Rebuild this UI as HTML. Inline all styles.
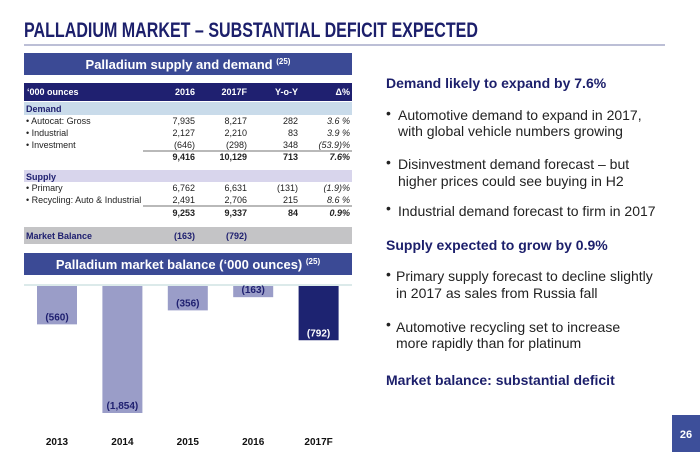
<!DOCTYPE html>
<html><head><meta charset="utf-8"><style>
body{margin:0;background:#fff}
svg{display:block;font-family:"Liberation Sans",Arial,sans-serif}
</style></head><body>
<svg width="700" height="461" viewBox="0 0 700 461">
<text x="24" y="37" font-size="21" font-weight="bold" fill="#1c1f6b" textLength="454" lengthAdjust="spacingAndGlyphs">PALLADIUM MARKET – SUBSTANTIAL DEFICIT EXPECTED</text>
<line x1="24" y1="45" x2="665" y2="45" stroke="#7a7fae" stroke-width="1"/>

<g>
<rect x="24" y="53" width="328" height="22" fill="#3b4a95"/>
<text x="188" y="69" text-anchor="middle" font-size="13" font-weight="bold" fill="#fff">Palladium supply and demand <tspan font-size="8" dy="-5">(25)</tspan></text>
<rect x="24" y="83" width="328" height="18" fill="#1f2070"/>
<g font-size="9" font-weight="bold" fill="#fff">
<text x="27" y="95">‘000 ounces</text>
<text x="195" y="95" text-anchor="end">2016</text>
<text x="247" y="95" text-anchor="end">2017F</text>
<text x="298" y="95" text-anchor="end">Y-o-Y</text>
<text x="350" y="95" text-anchor="end">Δ%</text>
</g>
<rect x="24" y="102" width="328" height="13" fill="#c9dbea"/>
<text x="26" y="112" font-size="9" font-weight="bold" fill="#1f2070">Demand</text>
<g font-size="9" fill="#222">
<text x="26" y="124">• Autocat: Gross</text><text x="195" y="124" text-anchor="end">7,935</text><text x="247" y="124" text-anchor="end">8,217</text><text x="298" y="124" text-anchor="end">282</text><text x="350" y="124" text-anchor="end" font-style="italic">3.6 %</text>
<text x="26" y="136">• Industrial</text><text x="195" y="136" text-anchor="end">2,127</text><text x="247" y="136" text-anchor="end">2,210</text><text x="298" y="136" text-anchor="end">83</text><text x="350" y="136" text-anchor="end" font-style="italic">3.9 %</text>
<text x="26" y="148">• Investment</text><text x="195" y="148" text-anchor="end">(646)</text><text x="247" y="148" text-anchor="end">(298)</text><text x="298" y="148" text-anchor="end">348</text><text x="350" y="148" text-anchor="end" font-style="italic">(53.9)%</text>
<text x="195" y="160" text-anchor="end" font-weight="bold">9,416</text><text x="247" y="160" text-anchor="end" font-weight="bold">10,129</text><text x="298" y="160" text-anchor="end" font-weight="bold">713</text><text x="350" y="160" text-anchor="end" font-weight="bold" font-style="italic">7.6%</text>
</g>
<line x1="143" y1="151" x2="352" y2="151" stroke="#444" stroke-width="0.8"/>
<rect x="24" y="170" width="328" height="12" fill="#d8d5ec"/>
<text x="26" y="180" font-size="9" font-weight="bold" fill="#1f2070">Supply</text>
<g font-size="9" fill="#222">
<text x="26" y="191">• Primary</text><text x="195" y="191" text-anchor="end">6,762</text><text x="247" y="191" text-anchor="end">6,631</text><text x="298" y="191" text-anchor="end">(131)</text><text x="350" y="191" text-anchor="end" font-style="italic">(1.9)%</text>
<text x="26" y="203">• Recycling: Auto &amp; Industrial</text><text x="195" y="203" text-anchor="end">2,491</text><text x="247" y="203" text-anchor="end">2,706</text><text x="298" y="203" text-anchor="end">215</text><text x="350" y="203" text-anchor="end" font-style="italic">8.6 %</text>
<text x="195" y="216" text-anchor="end" font-weight="bold">9,253</text><text x="247" y="216" text-anchor="end" font-weight="bold">9,337</text><text x="298" y="216" text-anchor="end" font-weight="bold">84</text><text x="350" y="216" text-anchor="end" font-weight="bold" font-style="italic">0.9%</text>
</g>
<line x1="143" y1="206" x2="352" y2="206" stroke="#444" stroke-width="0.8"/>
<rect x="24" y="227" width="328" height="17" fill="#c4c4c6"/>
<g font-size="9" font-weight="bold" fill="#1f2070">
<text x="26" y="239">Market Balance</text><text x="195" y="239" text-anchor="end">(163)</text><text x="247" y="239" text-anchor="end">(792)</text>
</g>
</g>

<rect x="24" y="253" width="328" height="22" fill="#3b4a95"/>
<text x="188" y="269" text-anchor="middle" font-size="13" font-weight="bold" fill="#fff">Palladium market balance (‘000 ounces) <tspan font-size="8" dy="-5">(25)</tspan></text>
<line x1="24" y1="285" x2="352" y2="285" stroke="#b8d4d4" stroke-width="1"/>
<g id="bars"></g>

<g>
<g font-size="14" font-weight="bold" fill="#1c1f6b">
<text x="386" y="88">Demand likely to expand by 7.6%</text>
<text x="386" y="250">Supply expected to grow by 0.9%</text>
<text x="386" y="385">Market balance: substantial deficit</text>
</g>
<g font-size="14" fill="#222">
<text x="386" y="118">•</text><text x="398" y="120">Automotive demand to expand in 2017,</text><text x="398" y="136">with global vehicle numbers growing</text>
<text x="386" y="167">•</text><text x="398" y="169">Disinvestment demand forecast – but</text><text x="398" y="186">higher prices could see buying in H2</text>
<text x="386" y="213">•</text><text x="398" y="216">Industrial demand forecast to firm in 2017</text>
<text x="386" y="279">•</text><text x="396" y="281">Primary supply forecast to decline slightly</text><text x="396" y="298">in 2017 as sales from Russia fall</text>
<text x="386" y="329">•</text><text x="396" y="332">Automotive recycling set to increase</text><text x="396" y="348">more rapidly than for platinum</text>
</g>
</g>
<rect x="672" y="415" width="28" height="37" fill="#3d4f9a"/>
<text x="686" y="438" text-anchor="middle" font-size="11" font-weight="bold" fill="#fff">26</text>
</svg>
<script>
const categories = ["2013","2014","2015","2016","2017F"];
const balances = [-560,-1854,-356,-163,-792];
const valueLabels = ["(560)","(1,854)","(356)","(163)","(792)"];
const forecastFlags = [false,false,false,false,true];
const NS="http://www.w3.org/2000/svg";
const g=document.getElementById('bars');
const x0=37, step=65.4, bw=40, baseY=286, scale=127/1854;
function xPos(i){return x0+i*step;}
function yLen(v){return Math.abs(v)*scale;}
categories.forEach((c,i)=>{
  const h=yLen(balances[i]);
  const r=document.createElementNS(NS,'rect');
  r.setAttribute('x',xPos(i));r.setAttribute('y',baseY);
  r.setAttribute('width',bw);r.setAttribute('height',h);
  r.setAttribute('fill',forecastFlags[i]?'#1d2371':'#9a9dc8');
  
  
  g.appendChild(r);
  const t=document.createElementNS(NS,'text');
  t.setAttribute('x',xPos(i)+bw/2);t.setAttribute('y',baseY+h-4);
  t.setAttribute('text-anchor','middle');t.setAttribute('font-size','10');t.setAttribute('font-weight','bold');
  t.setAttribute('fill',forecastFlags[i]?'#fff':'#1f2070');
  
  
  t.textContent=valueLabels[i];g.appendChild(t);
  const l=document.createElementNS(NS,'text');
  l.setAttribute('x',xPos(i)+bw/2);l.setAttribute('y',445);
  l.setAttribute('text-anchor','middle');l.setAttribute('font-size','10');l.setAttribute('font-weight','bold');l.setAttribute('fill','#111');
  
  
  l.textContent=c;g.appendChild(l);
});
</script>
</body></html>
